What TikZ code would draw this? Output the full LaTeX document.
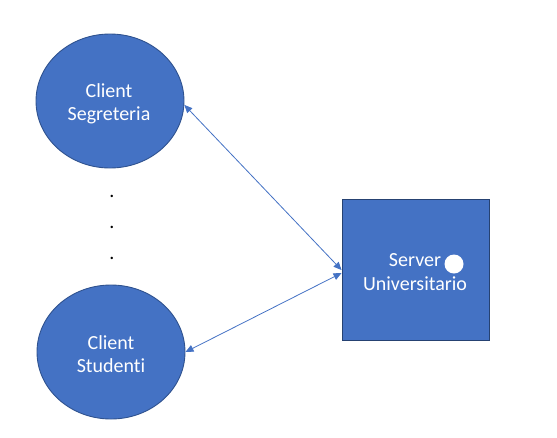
\documentclass[tikz,border=0pt]{standalone}
\usepackage{fontspec}
\setmainfont{Carlito}[RawFeature=-liga]
\usetikzlibrary{shapes.geometric,arrows.meta,calc}
\definecolor{fillblue}{HTML}{4472C4}
\definecolor{edgeblue}{HTML}{2F528F}
\begin{document}
\begin{tikzpicture}[x=1pt,y=-1pt,
  client/.style={ellipse,draw=edgeblue,fill=fillblue,line width=0.9pt,minimum width=148pt,minimum height=134pt,inner sep=0pt},
  server/.style={rectangle,draw=edgeblue!80!black,fill=fillblue,line width=0.9pt,minimum width=147pt,minimum height=141pt,inner sep=0pt},
  lbl/.style={text=white,align=center,font=\fontsize{20}{23.5}\selectfont},
  dotlbl/.style={anchor=base,font=\fontsize{20}{23}\selectfont,inner sep=0pt},
  link/.style={draw=fillblue,line width=0.8pt,{Triangle[length=8pt,width=7pt]}-{Triangle[length=8pt,width=7pt]}}
]
\useasboundingbox (0,0) rectangle (557,437);
\node[client] (seg) at (110,101) {};
\node[lbl] (segtxt) at (109,104) {Client\\Segreteria};
\node[client] (stu) at (111,352) {};
\node[lbl] (stutxt) at (111,354) {Client\\Studenti};
\node[server] (srv) at (415.5,269.5) {};
\node[lbl] (srvtxt) at (415,272) {Server\\Universitario};
\node[circle,fill=white,minimum size=19pt,inner sep=0pt] (dot) at (454,264) {};
\node[dotlbl] (d1) at (112,197) {.};
\node[dotlbl] (d2) at (112,228) {.};
\node[dotlbl] (d3) at (112,259) {.};
\coordinate (srvA) at ($(srv.west)+(0,0.5)$);
\coordinate (srvB) at ($(srv.west)+(0,3.5)$);
\draw[link] (seg.-3) -- (srvA);
\draw[link] (srvB) -- (stu.east);
\end{tikzpicture}
\end{document}
